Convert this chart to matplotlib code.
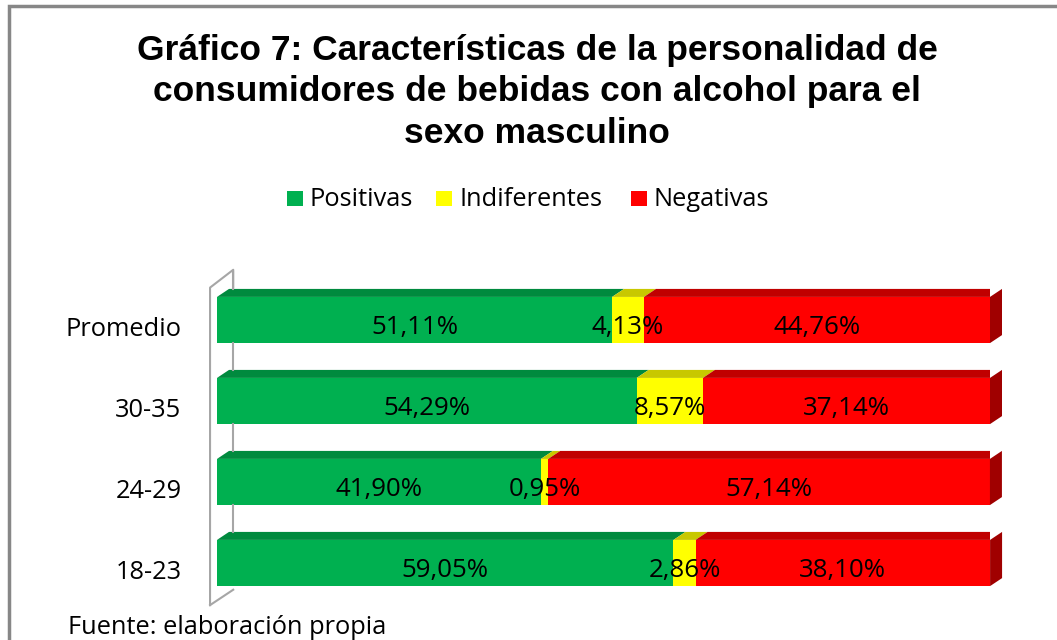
import numpy as np
import matplotlib.pyplot as plt
from matplotlib.patches import Polygon, Rectangle

# data (bottom to top)
categorias = ['18-23', '24-29', '30-35', 'Promedio']
positivas = [59.05, 41.90, 54.29, 51.11]
indiferentes = [2.86, 0.95, 8.57, 4.13]
negativas = [38.10, 57.14, 37.14, 44.76]
series = ['Positivas', 'Indiferentes', 'Negativas']

front = ['#00B050', '#FFFF00', '#FF0000']
top = ['#008A3E', '#C8C800', '#C00000']
side = ['#007A36', '#B0B000', '#A00000']

FONT = 'Open Sans'
FS = 18.3

fig = plt.figure(figsize=(10.57, 6.40), dpi=100)
fig.patches.append(Rectangle((9/1057, -0.1), 1.2, (640-6)/640+0.1, transform=fig.transFigure,
                             fill=False, edgecolor='#878787', lw=2.5))

ax = fig.add_axes([217/1057, (640-611.6)/640, 773/1057, 4.2*81/640])
ax.set_xlim(0, 100)
ax.set_ylim(-0.6, 3.6)
ax.axis('off')

h = 0.57
dx = 12/7.73   # depth in data units
dy = 8/81

# back wall outline
wx0, wx1 = -0.9, 2.1
ax.plot([wx0, wx0, wx1, wx1], [-0.52, 3.40, 3.62, 3.40], color='#A6A6A6', lw=1.5, clip_on=False)
ax.plot([wx0, wx1], [-0.52, -0.33], color='#A6A6A6', lw=1.5, clip_on=False)
for y in range(len(categorias)):
    ax.plot([wx1, wx1], [y + h/2 + dy, y + 1 - h/2], color='#A6A6A6', lw=1.5)

data = np.array([positivas, indiferentes, negativas])
for i, y in enumerate(range(len(categorias))):
    left = 0
    for s in range(3):
        w = data[s][i]
        yb, yt = y - h/2, y + h/2
        ax.add_patch(Rectangle((left, yb), w, h, facecolor=front[s], edgecolor='none'))
        ax.add_patch(Polygon([(left, yt), (left + w, yt), (left + w + dx, yt + dy), (left + dx, yt + dy)],
                             facecolor=top[s], edgecolor='none'))
        if s == 2:
            ax.add_patch(Polygon([(left + w, yb), (left + w, yt), (left + w + dx, yt + dy), (left + w + dx, yb + dy)],
                                 facecolor=side[s], edgecolor='none', clip_on=False))
        ax.text(left + w/2, y - 0.09, ('%.2f%%' % w).replace('.', ','), ha='center', va='center',
                fontsize=FS + 0.3, family=FONT)
        left += w
    ax.text(-4.6, y - 0.12, categorias[i], ha='right', va='center', fontsize=FS, family=FONT)

# title
fig.text(537/1057, 1 - 92/640, 'Gráfico 7: Características de la personalidad de\n'
         'consumidores de bebidas con alcohol para el\nsexo masculino',
         ha='center', va='center', fontsize=25.5, fontweight='bold', family='Liberation Sans',
         linespacing=1.34)

# legend
lx = [287, 436, 631]
for s in range(3):
    fig.patches.append(Rectangle((lx[s]/1057, 1 - 206/640), 16/1057, 15/640, transform=fig.transFigure,
                                 facecolor=front[s], edgecolor='none'))
    fig.text((lx[s] + 23)/1057, 1 - 199/640, series[s], ha='left', va='center', fontsize=FS, family=FONT)

fig.text(68/1057, 1 - 628/640, 'Fuente: elaboración propia', ha='left', va='center', fontsize=FS, family=FONT)

fig.savefig('out.png', dpi=100)
